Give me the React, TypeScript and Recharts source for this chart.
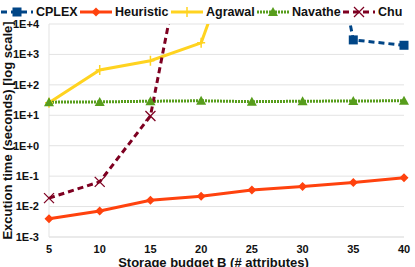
import { CartesianGrid, Line, LineChart, XAxis, YAxis } from 'recharts'

const budgets = [5, 10, 15, 20, 25, 30, 35, 40]
// values beyond 1E+4 run off the top of the chart (timeouts)
const cplex = [1e14, 1e14, 1e13, 1e13, 1e13, 1e12, 3000, 2000]
const heuristic = [0.004, 0.0072, 0.016, 0.022, 0.035, 0.046, 0.062, 0.088]
const agrawal = [26, 310, 620, 2400, 1e8, 1e8, 1e8, 1e8]
const navathe = [27, 27.5, 29, 30, 28, 29, 29.5, 30]
const chu = [0.019, 0.065, 9.5, 3e9, 3e9, 3e9, 3e9, 3e9]
const yTicks = [0.001, 0.01, 0.1, 1, 10, 100, 1000, 10000]
const yTickLabels = ['1E-3', '1E-2', '1E-1', '1E+0', '1E+1', '1E+2', '1E+3', '1E+4']

const data = budgets.map((b, i) => ({
  budget: b,
  cplex: cplex[i],
  heuristic: heuristic[i],
  agrawal: agrawal[i],
  navathe: navathe[i],
  chu: chu[i],
}))

type Shape = 'square' | 'diamond' | 'plus' | 'triangle' | 'cross'

const series: { key: string; name: string; color: string; dash?: string; shape: Shape }[] = [
  { key: 'cplex', name: 'CPLEX', color: '#004586', dash: '6 4', shape: 'square' },
  { key: 'heuristic', name: 'Heuristic', color: '#ff420e', shape: 'diamond' },
  { key: 'agrawal', name: 'Agrawal', color: '#ffd320', shape: 'plus' },
  { key: 'navathe', name: 'Navathe', color: '#579d1c', dash: '2 1', shape: 'triangle' },
  { key: 'chu', name: 'Chu', color: '#7e0021', dash: '6 4', shape: 'cross' },
]

function Marker({ cx, cy, color, shape }: { cx: number; cy: number; color: string; shape: Shape }) {
  if (cx == null || cy == null || !isFinite(cx) || !isFinite(cy)) return null
  switch (shape) {
    case 'square':
      return <rect x={cx - 4.5} y={cy - 4.5} width={9} height={9} fill={color} />
    case 'diamond':
      return <polygon points={`${cx},${cy - 4.5} ${cx + 4.5},${cy} ${cx},${cy + 4.5} ${cx - 4.5},${cy}`} fill={color} />
    case 'plus':
      return (
        <g stroke={color} strokeWidth={1.5}>
          <line x1={cx} y1={cy - 5} x2={cx} y2={cy + 5} />
          <line x1={cx - 4} y1={cy} x2={cx + 4} y2={cy} />
        </g>
      )
    case 'triangle':
      return <polygon points={`${cx},${cy - 5} ${cx + 5},${cy + 4} ${cx - 5},${cy + 4}`} fill={color} />
    case 'cross':
      return (
        <g stroke={color} strokeWidth={1.3}>
          <line x1={cx - 5} y1={cy - 5} x2={cx + 5} y2={cy + 5} />
          <line x1={cx - 5} y1={cy + 5} x2={cx + 5} y2={cy - 5} />
        </g>
      )
  }
}

const legendX = [1, 80, 171, 257, 343]

function LegendRow() {
  return (
    <div style={{ position: 'absolute', left: 0, top: 0, width: 415, height: 24 }}>
      {series.map((s, i) => (
        <div
          key={s.key}
          style={{
            position: 'absolute',
            left: legendX[i],
            top: 4,
            display: 'flex',
            alignItems: 'center',
            whiteSpace: 'nowrap',
          }}
        >
          <svg width={32} height={16} style={{ overflow: 'visible', flexShrink: 0, display: 'block' }}>
            <line x1={0} y1={8} x2={32} y2={8} stroke={s.color} strokeWidth={3} strokeDasharray={s.dash} />
            <Marker cx={16} cy={8} color={s.color} shape={s.shape} />
          </svg>
          <span style={{ marginLeft: 3, fontSize: 12.5, fontWeight: 700, color: '#111', lineHeight: '16px' }}>
            {s.name}
          </span>
        </div>
      ))}
    </div>
  )
}

export default function App() {
  return (
    <div
      style={{
        position: 'absolute',
        left: 0,
        top: 0,
        width: 415,
        height: 267,
        background: '#fff',
        fontFamily: '"Liberation Sans", Arial, sans-serif',
        overflow: 'hidden',
      }}
    >
      <LineChart width={415} height={267} data={data} margin={{ top: 24, right: 11, bottom: 0, left: 9 }}>
        <CartesianGrid stroke="#e3e3e3" vertical={false} />
        <XAxis
          dataKey="budget"
          type="number"
          domain={[5, 40]}
          ticks={budgets}
          height={30}
          tickLine={false}
          axisLine={{ stroke: '#e3e3e3' }}
          tick={{ fill: '#111', fontSize: 11, fontWeight: 700 }}
          tickMargin={2}
          label={{
            value: 'Storage budget B (# attributes)',
            position: 'insideBottom',
            offset: 0,
            dx: -13,
            style: { fill: '#111', fontSize: 13, fontWeight: 700 },
          }}
        />
        <YAxis
          scale="log"
          domain={[0.001, 10000]}
          allowDataOverflow
          ticks={yTicks}
          width={40}
          tickLine={false}
          axisLine={{ stroke: '#e3e3e3' }}
          tick={{ fill: '#111', fontSize: 11, fontWeight: 700 }}
          tickFormatter={(v: number) => yTickLabels[yTicks.indexOf(v)] ?? ''}
          tickMargin={4}
          label={{
            value: 'Excution time (seconds) [log scale]',
            angle: -90,
            position: 'insideLeft',
            offset: -2,
            style: { fill: '#111', fontSize: 13, fontWeight: 700, textAnchor: 'middle' },
          }}
        />
        <YAxis yAxisId="right" orientation="right" width={0} axisLine={{ stroke: '#e3e3e3' }} tick={false} tickLine={false} />
        {series.map((s) => (
          <Line
            key={s.key}
            dataKey={s.key}
            name={s.name}
            stroke={s.color}
            strokeWidth={3}
            strokeDasharray={s.dash}
            isAnimationActive={false}
            dot={(p: any) => <Marker key={`${s.key}-${p.index}`} cx={p.cx} cy={p.cy} color={s.color} shape={s.shape} />}
            activeDot={false}
          />
        ))}
      </LineChart>
      <LegendRow />
    </div>
  )
}
